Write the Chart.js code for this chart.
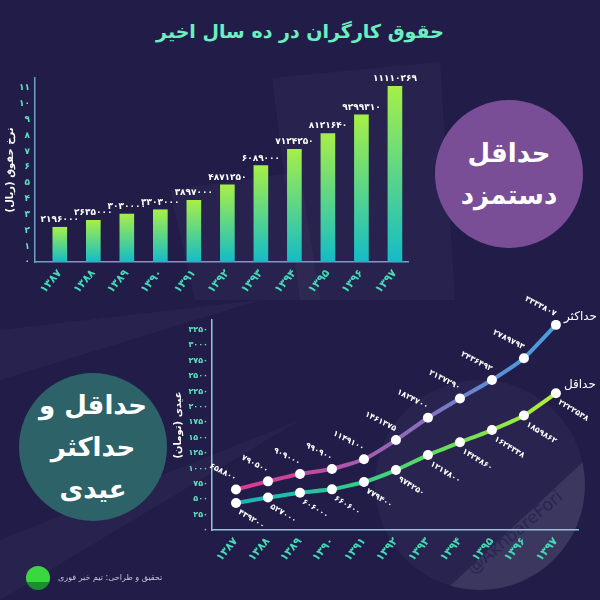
<!DOCTYPE html>
<html lang="fa">
<head>
<meta charset="utf-8">
<script src="https://cdn.jsdelivr.net/npm/chart.js@4.4.0/dist/chart.umd.min.js"></script>
<style>
html,body{margin:0;padding:0;}
body{width:600px;height:600px;background:#221c49;position:relative;overflow:hidden;font-family:"DejaVu Sans",sans-serif;}
canvas{position:absolute;}
#bars{left:0;top:60px;}
#lines{left:150px;top:285px;}
#title{position:absolute;left:0;top:20px;width:600px;text-align:center;color:#6cefc0;font-weight:bold;font-size:19px;direction:rtl;}
.circle{position:absolute;border-radius:50%;display:flex;align-items:center;justify-content:center;text-align:center;color:#fff;font-weight:bold;direction:rtl;}
#c1{left:435px;top:100px;width:148px;height:148px;background:#7a4e96;font-size:26px;line-height:42px;}
#c2{left:19px;top:373px;width:148px;height:148px;background:#2c6268;font-size:26px;line-height:42px;}
#footer{position:absolute;left:58px;top:573px;color:#c9c6dc;font-size:8px;direction:rtl;white-space:nowrap;}
#logo{position:absolute;left:26px;top:566px;width:24px;height:24px;border-radius:50%;background:linear-gradient(#3ad83f 68%,#1a8d31 68%);}
.deco{position:absolute;left:0;top:0;width:600px;height:600px;background:rgba(255,255,255,0.03);}
#wm{position:absolute;left:375px;top:380px;width:210px;height:210px;border-radius:50%;background:rgba(255,255,255,0.035);}
#wm2{position:absolute;left:375px;top:380px;width:210px;height:210px;border-radius:50%;background:rgba(255,255,255,0.09);clip-path:polygon(60px 220px,210px 80px,210px 210px,0 210px);}
#wmtext{position:absolute;left:455px;top:522px;color:#2a2456;font-size:17px;transform:rotate(-40deg);white-space:nowrap;}
</style>
</head>
<body>
<div class="deco" style="clip-path:polygon(272px 78px,440px 62px,455px 300px,300px 300px);"></div>
<div class="deco" style="clip-path:polygon(170px 190px,300px 172px,320px 300px,195px 300px);"></div>
<div class="deco" style="clip-path:polygon(0 330px,260px 300px,0 380px);"></div>
<div class="deco" style="clip-path:polygon(0 540px,300px 420px,0 600px);"></div>
<div id="wm"></div>
<div id="wm2"></div>
<div id="wmtext">@AkhbareFori</div>

<div id="title">حقوق کارگران در ده سال اخیر</div>
<div class="circle" id="c1"><div>حداقل<br>دستمزد</div></div>
<div class="circle" id="c2"><div>حداقل و<br>حداکثر<br>عیدی</div></div>

<canvas id="bars" width="420" height="250" dir="rtl"></canvas>
<canvas id="lines" width="450" height="295" dir="rtl"></canvas>

<div id="logo"></div>
<div id="footer">تحقیق و طراحی: تیم خبر فوری</div>

<script>
// سال ها
var years = [1387, 1388, 1389, 1390, 1391, 1392, 1393, 1394, 1395, 1396, 1397];
// حداقل دستمزد ماهانه (ریال)
var minWage = [2196000, 2635000, 3030000, 3303000, 3897000, 4871250, 6089000, 7124250, 8121640, 9299310, 11110269];
// عیدی (تومان)
var eidiMax = [658800, 790500, 909000, 990900, 1149100, 1461375, 1824700, 2137290, 2436492, 2789793, 3333807];
var eidiMin = [439200, 527000, 606000, 660600, 779400, 974250, 1217800, 1424860, 1624338, 1859862, 2222538];
// tick labels
var wageTicks = [0, 1, 2, 3, 4, 5, 6, 7, 8, 9, 10, 11];          // million rial
var eidiTicks = [0, 250, 500, 750, 1000, 1250, 1500, 1750, 2000, 2250, 2500, 2750, 3000, 3250]; // thousand toman

var FONT = '"DejaVu Sans"';
var axisColor = '#6f9fc4';
var tickColor = '#5fe3bd';
var xTickColor = '#45dab5';

function fa(n) {
  return String(n).replace(/\d/g, function (d) { return '۰۱۲۳۴۵۶۷۸۹'[d]; });
}

function barGradient(ctx) {
  var chart = ctx.chart;
  if (!chart.chartArea || !ctx.raw) return '#2fc9b0';
  var ys = chart.scales.y;
  var top = ys.getPixelForValue(ctx.raw.y);
  var bot = ys.getPixelForValue(0);
  var g = chart.ctx.createLinearGradient(0, top, 0, bot);
  g.addColorStop(0, '#a6ef47');
  g.addColorStop(1, '#13bcc7');
  return g;
}

function lineGradient(stops) {
  return function (ctx) {
    var chart = ctx.chart;
    if (!chart.chartArea) return stops[0];
    var xs = chart.scales.x;
    var x0 = xs.getPixelForValue(years[0]);
    var x1 = xs.getPixelForValue(years[years.length - 1]);
    var g = chart.ctx.createLinearGradient(x0, 0, x1, 0);
    for (var i = 0; i < stops.length; i++) {
      g.addColorStop(i / (stops.length - 1), stops[i]);
    }
    return g;
  };
}

var barLabels = {
  id: 'barLabels',
  afterDatasetsDraw: function (chart) {
    var c = chart.ctx;
    var meta = chart.getDatasetMeta(0);
    c.save();
    c.font = 'bold 9px ' + FONT;
    c.fillStyle = '#ffffff';
    c.textAlign = 'center';
    c.textBaseline = 'bottom';
    meta.data.forEach(function (bar, i) {
      c.fillText(fa(minWage[i]), bar.x, bar.y - 3);
    });
    c.restore();
  }
};

var lineLabels = {
  id: 'lineLabels',
  afterDatasetsDraw: function (chart) {
    var c = chart.ctx;
    chart.data.datasets.forEach(function (ds, di) {
      var meta = chart.getDatasetMeta(di);
      var vals = di === 0 ? eidiMax : eidiMin;
      meta.data.forEach(function (pt, i) {
        c.save();
        c.font = 'bold 8px ' + FONT;
        c.fillStyle = '#ffffff';
        if (di === 0) {
          c.translate(pt.x - 2, pt.y - 7);
          c.rotate(0.48);
          c.textAlign = 'right';
          c.textBaseline = 'bottom';
        } else {
          c.translate(pt.x + 5, pt.y + 5);
          c.rotate(0.55);
          c.textAlign = 'left';
          c.textBaseline = 'top';
        }
        c.fillText(fa(vals[i]), 0, 0);
        c.restore();
      });
      var last = meta.data[meta.data.length - 1];
      c.save();
      c.font = '12px ' + FONT;
      c.fillStyle = '#ffffff';
      c.textAlign = 'left';
      c.textBaseline = 'middle';
      c.fillText(ds.label, last.x + 8, last.y - 8);
      c.restore();
    });
  }
};

new Chart(document.getElementById('bars'), {
  type: 'bar',
  data: {
    datasets: [{
      data: years.map(function (y, i) { return { x: y, y: minWage[i] }; }),
      backgroundColor: barGradient,
      barThickness: 14,
      borderWidth: 0
    }]
  },
  options: {
    responsive: false,
    animation: false,
    layout: { padding: { left: 0, top: 18, right: 12, bottom: 0 } },
    plugins: { legend: { display: false }, tooltip: { enabled: false } },
    scales: {
      x: {
        type: 'linear', min: 1386.26, max: 1397.39, offset: false,
        grid: { display: false, drawTicks: false },
        border: { color: axisColor, width: 1.5 },
        afterBuildTicks: function (s) { s.ticks = years.map(function (v) { return { value: v }; }); },
        afterFit: function (s) { s.height = 48; },
        ticks: {
          autoSkip: false, minRotation: 50, maxRotation: 50, padding: 5,
          color: xTickColor, font: { family: FONT, size: 11, weight: 'bold' },
          callback: function (v) { return fa(v); }
        }
      },
      y: {
        min: 0, max: 11630000,
        grid: { display: false, drawTicks: false },
        border: { color: axisColor, width: 1.5 },
        afterBuildTicks: function (s) { s.ticks = wageTicks.map(function (v) { return { value: v * 1e6 }; }); },
        afterFit: function (s) { s.width = 35; },
        ticks: {
          padding: 5, color: tickColor, font: { family: FONT, size: 9, weight: 'bold' },
          callback: function (v) { return fa(v / 1e6); }
        },
        title: {
          display: true, text: 'نرخ حقوق (ریال)', color: '#ffffff',
          font: { family: FONT, size: 10, weight: 'bold' }, padding: { top: 4, bottom: 0 }
        }
      }
    }
  },
  plugins: [barLabels]
});

new Chart(document.getElementById('lines'), {
  type: 'line',
  data: {
    datasets: [{
      label: 'حداکثر',
      data: years.map(function (y, i) { return { x: y, y: eidiMax[i] }; }),
      borderColor: lineGradient(['#e0398e', '#c4489b', '#a25fae', '#8571c0', '#5d8ed2', '#4a9fdc']),
      borderWidth: 4, tension: 0.15,
      pointRadius: 5, pointBackgroundColor: '#ffffff', pointBorderWidth: 0
    }, {
      label: 'حداقل',
      data: years.map(function (y, i) { return { x: y, y: eidiMin[i] }; }),
      borderColor: lineGradient(['#17b3b9', '#1fc1a6', '#34cf86', '#5cda62', '#88e34c', '#b6ef3b']),
      borderWidth: 4, tension: 0.15,
      pointRadius: 5, pointBackgroundColor: '#ffffff', pointBorderWidth: 0
    }]
  },
  options: {
    responsive: false,
    animation: false,
    layout: { padding: { left: 20, top: 35, right: 22, bottom: 0 } },
    plugins: { legend: { display: false }, tooltip: { enabled: false } },
    scales: {
      x: {
        type: 'linear', min: 1386.25, max: 1397.69,
        grid: { display: false, drawTicks: false },
        border: { color: '#86c9dc', width: 1.5 },
        afterBuildTicks: function (s) { s.ticks = years.map(function (v) { return { value: v }; }); },
        afterFit: function (s) { s.height = 50; },
        ticks: {
          autoSkip: false, minRotation: 50, maxRotation: 50, padding: 5,
          color: xTickColor, font: { family: FONT, size: 11, weight: 'bold' },
          callback: function (v) { return fa(v); }
        }
      },
      y: {
        min: 0, max: 3412500,
        grid: { display: false, drawTicks: false },
        border: { color: '#86c9dc', width: 1.5 },
        afterBuildTicks: function (s) { s.ticks = eidiTicks.map(function (v) { return { value: v * 1000 }; }); },
        afterFit: function (s) { s.width = 42; },
        ticks: {
          padding: 4, color: tickColor, font: { family: FONT, size: 8, weight: 'bold' },
          callback: function (v) { return fa(v / 1000); }
        },
        title: {
          display: true, text: 'عیدی (تومان)', color: '#ffffff',
          font: { family: FONT, size: 10, weight: 'bold' }, padding: { top: 2, bottom: 0 }
        }
      }
    }
  },
  plugins: [lineLabels]
});
</script>
</body>
</html>
